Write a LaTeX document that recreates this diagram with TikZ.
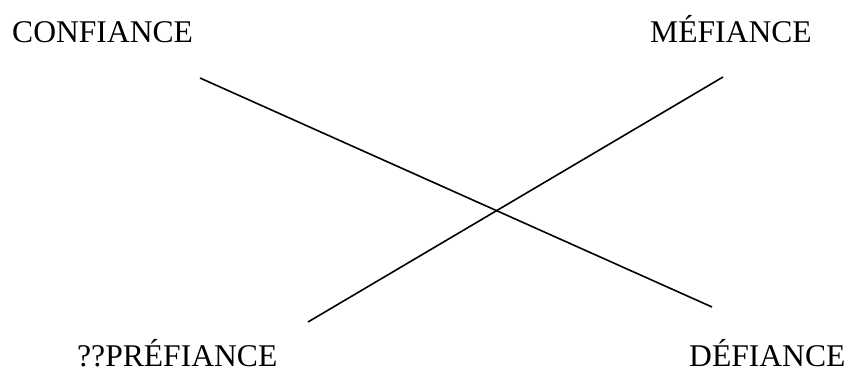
\documentclass[tikz,border=0pt]{standalone}
\usepackage{fontspec}
\setmainfont{Liberation Serif}
\begin{document}
\begin{tikzpicture}[x=1pt,y=-1pt,
  lbl/.style={inner sep=0pt,anchor=base west,font=\fontsize{31.6}{37}\selectfont},
  xline/.style={line width=1.6pt,black}]
\useasboundingbox (0,0) rectangle (846,374);
\node[lbl] (conf) at (12,43) {CONFIANCE};
\node[lbl] (mef) at (650,43) {MÉFIANCE};
\node[lbl] (pref) at (77,366) {??PRÉFIANCE};
\node[lbl] (def) at (689,366) {DÉFIANCE};
\coordinate (a1) at (200,78);
\coordinate (a2) at (712,307);
\coordinate (b1) at (723,77);
\coordinate (b2) at (308,322);
\draw[xline] (a1) -- (a2);
\draw[xline] (b1) -- (b2);
\end{tikzpicture}
\end{document}
